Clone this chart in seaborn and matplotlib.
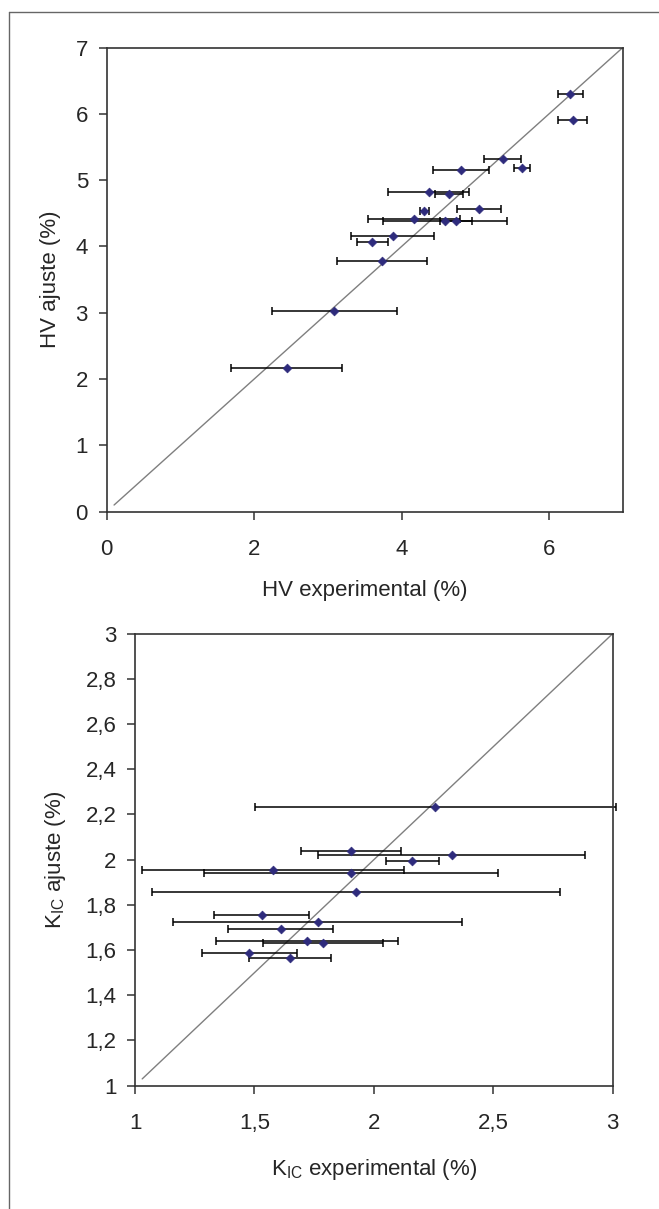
import matplotlib
matplotlib.use("Agg")
import matplotlib.pyplot as plt
import numpy as np
import seaborn as sns
from matplotlib.lines import Line2D
from matplotlib.ticker import FuncFormatter

# HV: experimental vs adjusted, with horizontal error bars
hv_exp = [5.37, 5.63, 4.81, 4.37, 4.65, 5.05, 4.31, 4.17, 4.59, 4.74,
          3.88, 3.60, 3.74, 3.09, 2.44, 6.29, 6.32]
hv_fit = [5.32, 5.19, 5.15, 4.82, 4.79, 4.56, 4.53, 4.41, 4.38, 4.38,
          4.16, 4.07, 3.78, 3.03, 2.16, 6.30, 5.91]
hv_err = [0.25, 0.11, 0.38, 0.55, 0.19, 0.30, 0.065, 0.62, 0.84, 0.22,
          0.56, 0.21, 0.61, 0.85, 0.75, 0.165, 0.20]

# KIC: experimental vs adjusted
kic_exp = [2.257, 1.904, 2.325, 2.161, 1.578, 1.904, 1.926, 1.530, 1.766,
           1.610, 1.719, 1.787, 1.479, 1.649]
kic_fit = [2.235, 2.039, 2.019, 1.996, 1.953, 1.942, 1.858, 1.755, 1.726,
           1.692, 1.640, 1.631, 1.588, 1.565]
kic_err = [0.755, 0.21, 0.56, 0.11, 0.55, 0.615, 0.855, 0.20, 0.605,
           0.22, 0.38, 0.25, 0.20, 0.17]

hv_line = [0.1, 7.0]
kic_line = [1.03, 3.0]

sns.set_style("ticks")
plt.rcParams["font.family"] = ["Liberation Sans", "DejaVu Sans"]

MARK = "#2e2b7c"
FS = 16


def comma(v, pos):
    return f"{round(v, 2):g}".replace(".", ",")


def style_axes(ax):
    for s in ax.spines.values():
        s.set_color("#333333")
        s.set_linewidth(1.2)
    ax.tick_params(axis="both", direction="out", length=5.5, width=1.1,
                   color="#333333", labelsize=FS, top=False, right=False)
    ax.tick_params(axis="x", pad=14)
    ax.tick_params(axis="y", pad=8)
    ax.xaxis.set_major_formatter(FuncFormatter(comma))
    ax.yaxis.set_major_formatter(FuncFormatter(comma))


def panel(ax, x, y, err, line):
    ax.plot(line, line, color="#7f7f7f", lw=1.0, zorder=1)
    bars = ax.errorbar(x, y, xerr=err, fmt="none", ecolor="black",
                       elinewidth=1.1, capsize=3, capthick=1.1, zorder=2)
    for art in bars.get_children():
        art.set_clip_on(False)
    sns.scatterplot(x=x, y=y, marker="D", s=20, color=MARK, edgecolor=MARK,
                    linewidth=0.5, ax=ax, zorder=3)


fig = plt.figure(figsize=(6.59, 12.09), dpi=100)

ax1 = fig.add_axes([0.1619, 0.5768, 0.783, 0.3838])
panel(ax1, hv_exp, hv_fit, hv_err, hv_line)
ax1.set_xlim(0, 7)
ax1.set_ylim(0, 7)
ax1.set_xticks([0, 2, 4, 6])
ax1.set_yticks(range(0, 8))
style_axes(ax1)
ax1.set_xlabel("HV experimental (%)", fontsize=FS)
ax1.set_ylabel("HV ajuste (%)", fontsize=FS)
ax1.xaxis.set_label_coords(0.5, -0.148)
ax1.yaxis.set_label_coords(-0.089, 0.5)

ax2 = fig.add_axes([0.2049, 0.102, 0.7249, 0.3739])
panel(ax2, kic_exp, kic_fit, kic_err, kic_line)
ax2.set_xlim(1, 3)
ax2.set_ylim(1, 3)
ax2.set_xticks(np.arange(1, 3.01, 0.5))
ax2.set_yticks(np.arange(1, 3.01, 0.2))
style_axes(ax2)
ax2.set_xlabel(r"K$_\mathregular{IC}$ experimental (%)", fontsize=FS)
ax2.set_ylabel(r"K$_\mathregular{IC}$ ajuste (%)", fontsize=FS)
ax2.xaxis.set_label_coords(0.5, -0.157)
ax2.yaxis.set_label_coords(-0.140, 0.5)

# page frame (top and left edges)
W, H = 659, 1209
fig.add_artist(Line2D([9.3 / W, 1.0], [1 - 11.5 / H, 1 - 11.5 / H],
                      transform=fig.transFigure, color="#666666", lw=1.0))
fig.add_artist(Line2D([9.3 / W, 9.3 / W], [0.0, 1 - 11.5 / H],
                      transform=fig.transFigure, color="#666666", lw=1.0))

fig.savefig("out.png", dpi=100)
